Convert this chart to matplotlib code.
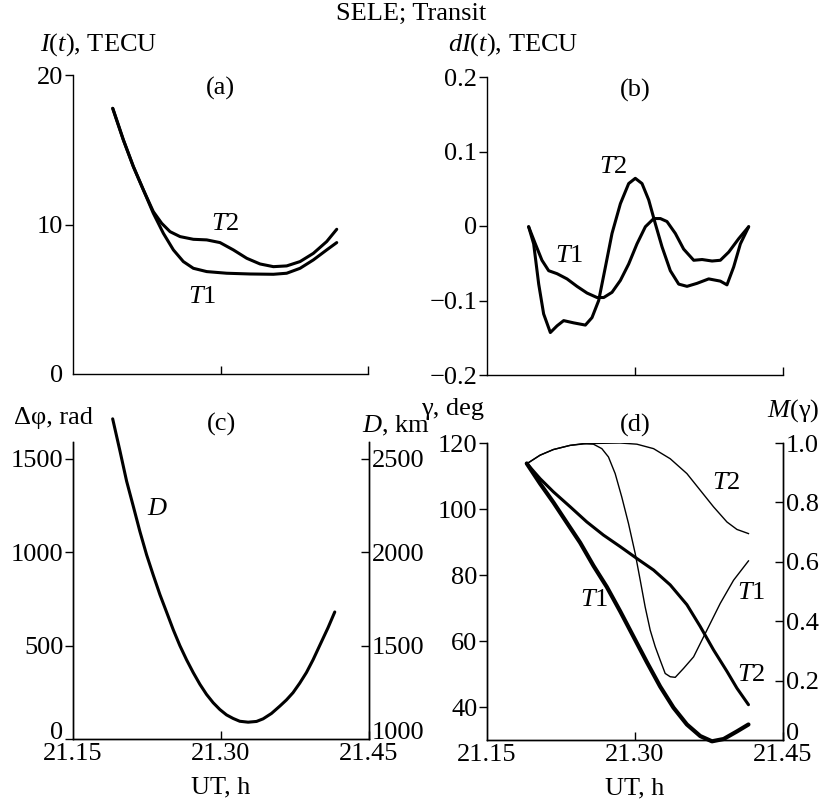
import matplotlib
matplotlib.use("Agg")
import matplotlib.pyplot as plt

plt.rcParams['font.family'] = ['Liberation Serif', 'DejaVu Serif']
plt.rcParams['mathtext.fontset'] = 'custom'
plt.rcParams['mathtext.rm'] = 'Liberation Serif'
plt.rcParams['mathtext.it'] = 'Liberation Serif:italic'
plt.rcParams['font.size'] = 19

# ---------------- data ----------------
# (a) I(t), TECU
a_t1_x = [21.1904, 21.2012, 21.2114, 21.2216, 21.2317, 21.2419, 21.2521, 21.2622, 21.2724, 21.286,
          21.3063, 21.330, 21.3538, 21.3673, 21.3809, 21.3944, 21.408, 21.4182]
a_t1_y = [17.77, 15.66, 13.87, 12.31, 10.75, 9.41, 8.30, 7.52, 7.07, 6.85,
          6.74, 6.69, 6.67, 6.74, 7.07, 7.63, 8.30, 8.79]
a_t2_x = [21.1904, 21.2012, 21.2114, 21.2216, 21.2317, 21.2402, 21.2487, 21.2589, 21.2724, 21.286,
          21.2995, 21.3131, 21.3267, 21.3402, 21.3538, 21.3673, 21.3809, 21.3944, 21.408, 21.4182]
a_t2_y = [17.77, 15.66, 13.87, 12.31, 10.86, 10.08, 9.52, 9.19, 9.01, 8.97,
          8.79, 8.30, 7.74, 7.36, 7.18, 7.23, 7.52, 8.07, 8.86, 9.68]

# (b) dI(t), TECU
b_t1_x = [21.1922, 21.1990, 21.2057, 21.2125, 21.2210, 21.2311, 21.2412, 21.2514, 21.2615, 21.2683,
          21.2767, 21.2852, 21.2936, 21.3020, 21.3105, 21.3190, 21.3257, 21.3324, 21.3409, 21.3493,
          21.3595, 21.3680, 21.3781, 21.3865, 21.3950, 21.4051, 21.4152]
b_t1_y = [-0.001, -0.024, -0.046, -0.060, -0.064, -0.071, -0.081, -0.090, -0.096, -0.096,
          -0.089, -0.073, -0.051, -0.024, -0.001, 0.010, 0.010, 0.006, -0.010, -0.031,
          -0.046, -0.045, -0.047, -0.046, -0.035, -0.017, -0.001]
b_t2_x = [21.1922, 21.1973, 21.2024, 21.2074, 21.2142, 21.2210, 21.2277, 21.2378, 21.2497, 21.2564,
          21.2632, 21.2700, 21.2767, 21.2852, 21.2936, 21.3003, 21.3071, 21.3139, 21.3206, 21.3274,
          21.3358, 21.3443, 21.3527, 21.3628, 21.3747, 21.3865, 21.3932, 21.4000, 21.4068, 21.4152]
b_t2_y = [-0.001, -0.024, -0.078, -0.118, -0.143, -0.134, -0.127, -0.130, -0.133, -0.123,
          -0.100, -0.055, -0.010, 0.030, 0.057, 0.064, 0.057, 0.035, 0.003, -0.028,
          -0.060, -0.078, -0.081, -0.077, -0.071, -0.074, -0.079, -0.055, -0.024, -0.001]

# (c) D, km
c_x = [21.1902, 21.1976, 21.2043, 21.2111, 21.2178, 21.2246, 21.2313, 21.2381, 21.2448, 21.2516,
       21.2583, 21.2651, 21.2718, 21.2786, 21.2853, 21.2921, 21.2988, 21.3056, 21.3123, 21.3190,
       21.3275, 21.3360, 21.3427, 21.3512, 21.3596, 21.3663, 21.3730, 21.3798, 21.3866, 21.3933,
       21.4000, 21.4085, 21.4153]
c_d = [2714, 2542, 2381, 2246, 2111, 1986, 1878, 1773, 1680, 1585,
       1500, 1424, 1356, 1293, 1239, 1194, 1158, 1129, 1110, 1095,
       1090, 1094, 1108, 1137, 1176, 1209, 1248, 1299, 1356, 1424,
       1500, 1596, 1680]

# (d) gamma, deg (thick lines)
d_g_t1_x = [21.1903, 21.2038, 21.2173, 21.2308, 21.2444, 21.2579, 21.2714, 21.2850, 21.2985, 21.3120,
            21.3255, 21.3390, 21.3526, 21.3661, 21.3780, 21.3898, 21.4033, 21.4150]
d_g_t1 = [113.8, 107.7, 102.0, 95.9, 89.8, 82.8, 76.4, 69.0, 61.3, 53.6,
          46.2, 39.8, 34.7, 31.2, 29.6, 30.3, 32.6, 34.7]
d_g_t2_x = [21.1903, 21.2038, 21.2173, 21.2342, 21.2511, 21.2680, 21.2850, 21.3019, 21.3188, 21.3357,
            21.3526, 21.3661, 21.3796, 21.3932, 21.4033, 21.4150]
d_g_t2 = [113.8, 109.2, 105.2, 100.7, 96.1, 92.1, 88.6, 85.0, 81.5, 77.0,
          71.0, 64.4, 57.3, 50.8, 45.7, 40.7]
# (d) M(gamma) (thin lines)
d_m_t2_x = [21.1903, 21.2038, 21.2173, 21.2342, 21.2511, 21.2850, 21.3019, 21.3188, 21.3357, 21.3526,
            21.3661, 21.3796, 21.3932, 21.4033, 21.4150]
d_m_t2 = [0.930, 0.959, 0.978, 0.992, 0.998, 1.000, 0.996, 0.981, 0.947, 0.897,
          0.841, 0.785, 0.734, 0.709, 0.695]
d_m_t1_x = [21.1903, 21.2038, 21.2173, 21.2342, 21.2478, 21.2579, 21.2664, 21.2731, 21.2799, 21.2866,
            21.2934, 21.3002, 21.3053, 21.3103, 21.3154, 21.3205, 21.3255, 21.3306, 21.3357, 21.3408,
            21.3492, 21.3594, 21.3729, 21.3864, 21.3999, 21.4150]
d_m_t1 = [0.930, 0.959, 0.978, 0.992, 0.998, 0.996, 0.981, 0.953, 0.897, 0.818,
          0.729, 0.628, 0.538, 0.448, 0.370, 0.314, 0.269, 0.224, 0.213, 0.211,
          0.241, 0.280, 0.370, 0.460, 0.538, 0.603]

xticks = [21.15, 21.30, 21.45]
xticklabels = ['21.15', '21.30', '21.45']

# ---------------- figure ----------------
W, H = 822, 801
fig = plt.figure(figsize=(W / 100, H / 100), dpi=100)


def rect(l, t, r, b):
    return [l / W, 1 - b / H, (r - l) / W, (b - t) / H]


LW = 2.2
TL = 6


def style(ax, right=False, xlabels=False):
    ax.set_xlim(21.15, 21.45)
    ax.set_xticks(xticks)
    if xlabels:
        ax.set_xticklabels(xticklabels)
    else:
        ax.set_xticklabels([])
    ax.spines['top'].set_visible(False)
    ax.spines['right'].set_visible(right)
    for s in ax.spines.values():
        s.set_linewidth(1.0)
    ax.tick_params(axis='x', direction='in', length=TL, width=1.0, pad=3)
    ax.tick_params(axis='y', direction='out', length=TL, width=1.0, pad=1)
    ax.xaxis.get_major_ticks()[0].tick1line.set_visible(False)


# (a)
axa = fig.add_axes(rect(73, 75, 368, 374))
style(axa)
axa.set_ylim(0, 20)
axa.set_yticks([0, 10, 20])
axa.yaxis.get_major_ticks()[0].tick1line.set_visible(False)
axa.plot(a_t1_x, a_t1_y, color='black', lw=LW, solid_capstyle='round')
axa.plot(a_t2_x, a_t2_y, color='black', lw=LW, solid_capstyle='round')
axa.text(21.305, 10.0, r'$T$2', ha='center', va='center')
axa.text(21.281, 5.15, r'$T$1', ha='center', va='center')
axa.text(0.5, 0.955, '(a)', transform=axa.transAxes, ha='center', va='center')

# (b)
axb = fig.add_axes(rect(487, 77, 783, 375))
style(axb)
axb.set_ylim(-0.2, 0.2)
axb.set_yticks([-0.2, -0.1, 0, 0.1, 0.2])
axb.set_yticklabels(['\u22120.2', '\u22120.1', '0', '0.1', '0.2'])
axb.plot(b_t1_x, b_t1_y, color='black', lw=LW, solid_capstyle='round')
axb.plot(b_t2_x, b_t2_y, color='black', lw=LW, solid_capstyle='round')
axb.text(21.278, 0.079, r'$T$2', ha='center', va='center')
axb.text(21.233, -0.040, r'$T$1', ha='center', va='center')
axb.text(0.5, 0.955, '(b)', transform=axb.transAxes, ha='center', va='center')

# (c)
axc = fig.add_axes(rect(73, 442, 369, 739))
style(axc, right=True, xlabels=True)
axc.set_ylim(0, 1590)
axc.set_yticks([0, 500, 1000, 1500])
axc.set_yticklabels(['0', '500', '1000', '1500'])
axc.yaxis.get_major_ticks()[0].tick1line.set_visible(False)
axc.get_yticklabels()[0].set_verticalalignment('baseline')
axc2 = axc.twinx()
axc2.set_ylim(1000, 2590)
axc2.set_yticks([1000, 1500, 2000, 2500])
axc2.set_yticklabels(['1000', '1500', '2000', '2500'])
axc2.spines['top'].set_visible(False)
for s in axc2.spines.values():
    s.set_linewidth(1.0)
axc2.tick_params(axis='y', direction='in', length=TL, width=1.0, pad=2)
axc2.yaxis.get_major_ticks()[0].tick2line.set_visible(False)
axc2.get_yticklabels()[0].set_verticalalignment('baseline')
axc2.plot(c_x, c_d, color='black', lw=LW, clip_on=False, solid_capstyle='round')
axc2.text(21.236, 2229, r'$D$', ha='center', va='center')
axc.set_xlabel('UT, h', labelpad=8)
axc.text(0.5, 1.06, '(c)', transform=axc.transAxes, ha='center', va='center')

# (d)
axd = fig.add_axes(rect(487, 443, 783, 740))
style(axd, right=True, xlabels=True)
axd.set_ylim(30, 120)
axd.set_yticks([40, 60, 80, 100, 120])
axd2 = axd.twinx()
axd2.set_ylim(0, 1.0)
axd2.set_yticks([0, 0.2, 0.4, 0.6, 0.8, 1.0])
axd2.set_yticklabels(['0', '0.2', '0.4', '0.6', '0.8', '1.0'])
axd2.spines['top'].set_visible(False)
for s in axd2.spines.values():
    s.set_linewidth(1.0)
axd2.tick_params(axis='y', direction='in', length=TL, width=1.0, pad=2)
axd2.yaxis.get_major_ticks()[0].tick2line.set_visible(False)
axd2.get_yticklabels()[0].set_verticalalignment('baseline')
axd.plot(d_g_t1_x, d_g_t1, color='black', lw=3.0, clip_on=False, solid_capstyle='round')
axd.plot(d_g_t2_x, d_g_t2, color='black', lw=2.2, clip_on=False, solid_capstyle='round')
axd2.plot(d_m_t2_x, d_m_t2, color='black', lw=1.0)
axd2.plot(d_m_t1_x, d_m_t1, color='black', lw=1.0)
axd.text(21.3925, 107.8, r'$T$2', ha='center', va='center')
axd.text(21.418, 74.6, r'$T$1', ha='center', va='center')
axd.text(21.418, 49.8, r'$T$2', ha='center', va='center')
axd.text(21.2586, 72.4, r'$T$1', ha='center', va='center')
axd.set_xlabel('UT, h', labelpad=8)
axd.text(0.5, 1.06, '(d)', transform=axd.transAxes, ha='center', va='center')

# titles / axis captions
fig.text(411 / W, 1 - 14 / H, 'SELE; Transit', ha='center', va='center')
fig.text(40 / W, 1 - 45 / H, r'$I(t)$, TECU', ha='left', va='center')
fig.text(448 / W, 1 - 45 / H, r'$dI(t)$, TECU', ha='left', va='center')
fig.text(14 / W, 1 - 418 / H, '\u0394\u03c6, rad', ha='left', va='center')
fig.text(362 / W, 1 - 426 / H, r'$D$, km', ha='left', va='center')
fig.text(421 / W, 1 - 409 / H, '\u03b3, deg', ha='left', va='center')
fig.text(819 / W, 1 - 411 / H, '$M$(\u03b3)', ha='right', va='center')

fig.savefig('out.png', dpi=100)
